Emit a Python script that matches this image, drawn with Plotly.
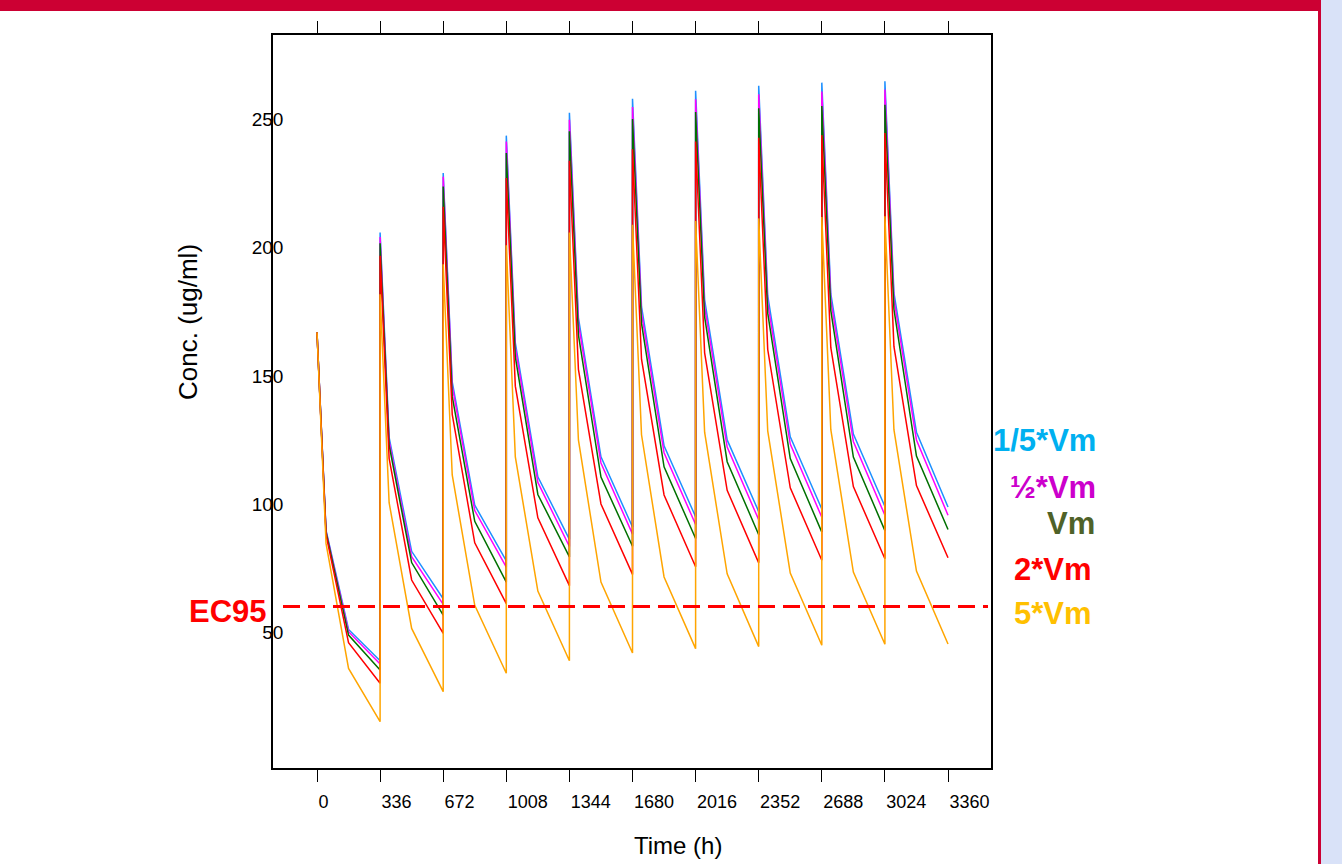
import plotly.graph_objects as go

# ---------------- data ----------------
time_ticks = [0, 336, 672, 1008, 1344, 1680, 2016, 2352, 2688, 3024, 3360]
dose_times = [0, 336, 672, 1008, 1344, 1680, 2016, 2352, 2688, 3024]
sample_offsets = [0, 48, 168, 336]   # h after each dose
y_ticks = [50, 100, 150, 200, 250]
EC95 = 60

series_names = ["1/5*Vm", "½*Vm", "Vm", "2*Vm", "5*Vm"]

# per dosing interval: value right after dose, at +48 h, at +168 h, at +336 h (trough)
fifth_peak = [167, 206, 229.2, 243.8, 252.7, 258.2, 261.3, 263.3, 264.5, 265.0]
fifth_48   = [89.8, 126, 147.7, 162.9, 172.7, 177.0, 179.7, 181.3, 182.0, 182.4]
fifth_168  = [51.0, 81.5, 99.5, 110.6, 118.4, 122.7, 125.0, 126.2, 127.3, 128.0]
fifth_tr   = [38.8, 63.0, 77.8, 86.2, 91.0, 95.0, 97.0, 98.0, 99.0, 98.8]

half_peak = [167, 204.2, 227.8, 241.5, 250.0, 255.0, 258.0, 260.0, 261.0, 261.8]
half_48   = [89.3, 124.5, 146.0, 161.0, 170.5, 174.5, 177.0, 178.5, 179.5, 180.0]
half_168  = [50.1, 79.4, 97.4, 108.4, 116.0, 120.0, 122.2, 123.4, 124.4, 125.0]
half_tr   = [37.5, 60.8, 75.3, 83.4, 88.2, 92.0, 93.8, 94.8, 95.6, 95.6]

one_peak = [167, 201.8, 223.9, 237.0, 245.5, 250.3, 253.0, 254.5, 255.4, 255.9]
one_48   = [89.0, 123.0, 142.0, 157.4, 166.0, 170.5, 173.0, 174.5, 175.5, 176.0]
one_168  = [48.8, 77.1, 93.2, 103.7, 110.5, 114.5, 116.5, 117.7, 118.3, 118.7]
one_tr   = [35.2, 56.6, 69.5, 79.3, 83.5, 86.5, 88.0, 89.0, 89.6, 90.0]

two_peak = [167, 196.9, 216.0, 227.3, 234.0, 238.5, 241.5, 243.0, 244.0, 244.8]
two_48   = [88.0, 117.8, 135.0, 146.0, 152.5, 156.5, 159.0, 160.3, 161.0, 161.5]
two_168  = [45.8, 70.3, 84.8, 94.6, 100.0, 103.5, 105.3, 106.3, 106.8, 107.2]
two_tr   = [30.0, 49.5, 61.1, 68.1, 72.5, 75.5, 77.0, 78.0, 78.6, 79.0]

five_peak = [167, 181.9, 193.6, 201.0, 206.0, 209.0, 210.5, 211.5, 212.0, 212.3]
five_48   = [84.6, 100.5, 111.3, 118.4, 125.0, 127.0, 128.0, 128.5, 129.0, 129.0]
five_168  = [35.8, 51.4, 60.4, 66.0, 69.5, 71.5, 72.7, 73.0, 73.4, 73.8]
five_tr   = [15.0, 26.7, 33.9, 38.8, 41.8, 43.5, 44.3, 44.8, 45.2, 45.3]

series_values = [
    (fifth_peak, fifth_48, fifth_168, fifth_tr),
    (half_peak, half_48, half_168, half_tr),
    (one_peak, one_48, one_168, one_tr),
    (two_peak, two_48, two_168, two_tr),
    (five_peak, five_48, five_168, five_tr),
]

line_colors = ["#1E90FF", "#FF00FF", "#007000", "#FF0000", "#FFA500"]
label_colors = ["#00B0F0", "#CC00CC", "#4F6228", "#FF0000", "#FFC000"]

# ---------------- figure ----------------
W, H = 1342, 864
ML, MR, MT, MB = 273, 351, 35, 96
PW, PH = W - ML - MR, H - MT - MB


def px_x(px):
    return (px - ML) / PW


def px_y(py):
    return (H - MB - py) / PH


FONT = "Liberation Sans, Arial, sans-serif"

fig = go.Figure()

for name, vals, col in zip(series_names, series_values, line_colors):
    xs, ys = [], []
    for k, t0 in enumerate(dose_times):
        for off, arr in zip(sample_offsets, vals):
            xs.append(t0 + off)
            ys.append(arr[k])
    fig.add_trace(go.Scatter(x=xs, y=ys, mode="lines", name=name,
                             line=dict(color=col, width=1.5), hoverinfo="x+y+name"))

fig.update_layout(
    width=W, height=H,
    margin=dict(l=ML, r=MR, t=MT, b=MB, autoexpand=False),
    paper_bgcolor="white", plot_bgcolor="white",
    showlegend=False,
    font=dict(family=FONT, color="black"),
    xaxis=dict(range=[-234.3, 3588.9], tickvals=time_ticks,
               ticktext=[str(t) for t in time_ticks],
               ticks="outside", ticklen=12, tickwidth=1.3, tickcolor="black",
               ticklabelposition="outside right", ticklabelstandoff=17,
               tickfont=dict(size=18, family=FONT),
               showline=True, linecolor="black", linewidth=1.5, mirror="ticks",
               showgrid=False, zeroline=False),
    yaxis=dict(range=[-3.1, 283.1], tickvals=y_ticks,
               ticktext=[str(v) for v in y_ticks],
               ticks="", tickfont=dict(size=19, family=FONT),
               ticklabelstandoff=-16,
               showline=True, linecolor="black", linewidth=1.5, mirror=True,
               showgrid=False, zeroline=False),
    yaxis2=dict(range=[-3.1, 283.1], overlaying="y", side="right",
                tickvals=y_ticks, ticks="outside", ticklen=13, tickwidth=1.3,
                tickcolor="black", showticklabels=False, showline=False,
                showgrid=False, zeroline=False),
)

# frame decorations
shapes = [
    dict(type="rect", xref="paper", yref="paper", x0=px_x(0), x1=px_x(1319),
         y0=px_y(11), y1=px_y(0), fillcolor="#CC0033", line=dict(width=0)),
    dict(type="rect", xref="paper", yref="paper", x0=px_x(1318), x1=px_x(1321),
         y0=px_y(H), y1=px_y(0), fillcolor="#CC0033", line=dict(width=0)),
    dict(type="rect", xref="paper", yref="paper", x0=px_x(1321), x1=px_x(W),
         y0=px_y(H), y1=px_y(0), fillcolor="#D9E2F8", line=dict(width=0)),
    dict(type="line", xref="paper", yref="y", x0=px_x(283), x1=px_x(988),
         y0=EC95, y1=EC95, line=dict(color="#FF0000", width=3, dash="17px,8px")),
]
fig.update_layout(shapes=shapes)

annotations = [
    dict(text="<b>EC95</b>", xref="paper", yref="y", x=px_x(269), y=EC95,
         xanchor="right", yanchor="middle", yshift=-5, showarrow=False,
         font=dict(size=31, color="#FF0000", family=FONT)),
    dict(text="Conc. (ug/ml)", xref="paper", yref="paper", x=px_x(188), y=px_y(322),
         xanchor="center", yanchor="middle", textangle=-90, showarrow=False,
         font=dict(size=26, color="black", family=FONT)),
    dict(text="Time (h)", xref="paper", yref="paper", x=px_x(678), y=px_y(845),
         xanchor="center", yanchor="middle", showarrow=False,
         font=dict(size=24, color="black", family=FONT)),
]
label_right = [1098, 1098, 1097, 1094, 1094]
label_mid = [440, 487, 523, 569, 613]
for name, col, xr, ym in zip(series_names, label_colors, label_right, label_mid):
    annotations.append(dict(text=f"<b>{name}</b>", xref="paper", yref="paper",
                            x=px_x(xr), y=px_y(ym), xanchor="right", yanchor="middle",
                            showarrow=False, font=dict(size=31, color=col, family=FONT)))
fig.update_layout(annotations=annotations)

fig.write_html("out.html", config={"displayModeBar": False},
               post_script="document.body.style.margin='0';document.body.style.overflow='hidden';")
